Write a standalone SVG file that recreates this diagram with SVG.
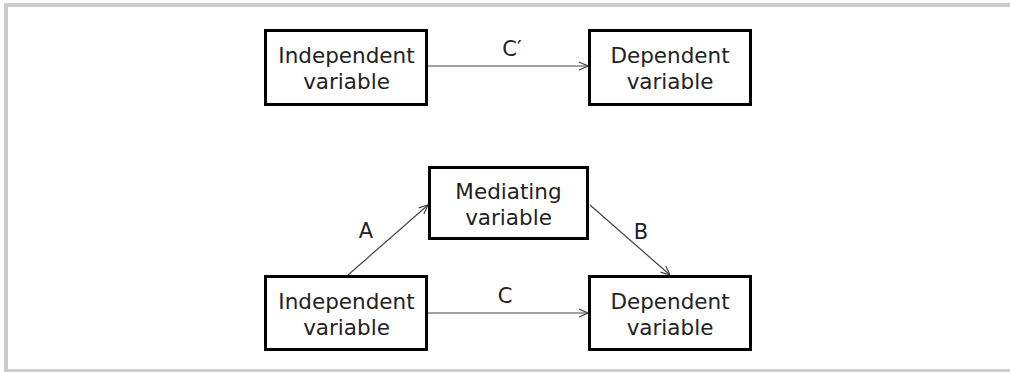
<svg xmlns="http://www.w3.org/2000/svg" width="1010" height="372" viewBox="0 0 1010 372">
<defs>
<style>
.box{fill:#fff;stroke:#000;stroke-width:3}
.t{font-family:"DejaVu Sans","Open Sans",sans-serif;font-size:21.5px;fill:#222;text-anchor:middle}
.lbl{font-family:"DejaVu Sans","Open Sans",sans-serif;font-size:21px;fill:#222;text-anchor:middle}
.con{fill:none;stroke:#444;stroke-width:1.2}
</style>
<marker id="arr" viewBox="0 0 10 10" refX="10" refY="5" markerWidth="10" markerHeight="10" markerUnits="userSpaceOnUse" orient="auto">
<path d="M1,1 L10,5 L1,9" fill="none" stroke="#444" stroke-width="1.2"/>
</marker>
</defs>
<rect x="0" y="0" width="1010" height="372" fill="#fff"/>
<rect x="6" y="5" width="1010" height="366" fill="none" stroke="#cccccc" stroke-width="4"/>
<g id="connectors">
<line class="con" x1="428" y1="66" x2="588" y2="66" marker-end="url(#arr)"/>
<line class="con" x1="348" y1="275" x2="428" y2="205" marker-end="url(#arr)"/>
<line class="con" x1="590" y1="205" x2="670" y2="275" marker-end="url(#arr)"/>
<line class="con" x1="428" y1="313" x2="588" y2="313" marker-end="url(#arr)"/>
<text class="lbl" x="512" y="56">C′</text>
<text class="lbl" x="366" y="238">A</text>
<text class="lbl" x="641" y="239">B</text>
<text class="lbl" x="505" y="303">C</text>
</g>
<g id="indep-top">
<rect class="box" x="265.5" y="30.5" width="161" height="74"/>
<text class="t" x="346.5" y="63">Independent</text>
<text class="t" x="346.5" y="89">variable</text>
</g>
<g id="dep-top">
<rect class="box" x="589.5" y="30.5" width="161" height="74"/>
<text class="t" x="670" y="63">Dependent</text>
<text class="t" x="670" y="89">variable</text>
</g>
<g id="mediating">
<rect class="box" x="429.5" y="167.5" width="158" height="71"/>
<text class="t" x="508.5" y="199">Mediating</text>
<text class="t" x="508.5" y="225">variable</text>
</g>
<g id="indep-bottom">
<rect class="box" x="265.5" y="276.5" width="161" height="73"/>
<text class="t" x="346.5" y="309">Independent</text>
<text class="t" x="346.5" y="335">variable</text>
</g>
<g id="dep-bottom">
<rect class="box" x="589.5" y="276.5" width="161" height="73"/>
<text class="t" x="670" y="309">Dependent</text>
<text class="t" x="670" y="335">variable</text>
</g>
</svg>
